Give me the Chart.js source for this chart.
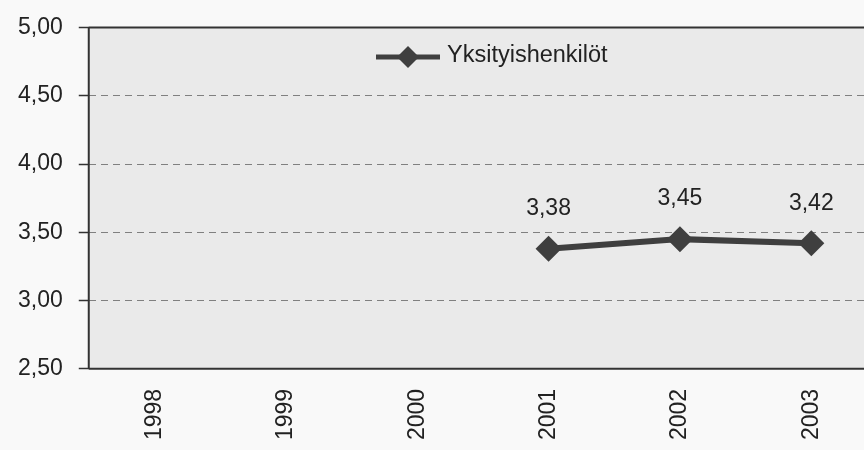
<!DOCTYPE html>
<html>
<head>
<meta charset="utf-8">
<script src="https://cdn.jsdelivr.net/npm/chart.js@4/dist/chart.umd.min.js"></script>
<style>
  html, body { margin: 0; padding: 0; background: #f9f9f9; overflow: hidden; }
  #wrap { width: 890px; height: 450px; }
</style>
</head>
<body>
<div id="wrap"><canvas id="lineChart" width="890" height="450"></canvas></div>
<script>
var years = ["1998", "1999", "2000", "2001", "2002", "2003"];
var privateValues = [null, null, null, 3.38, 3.45, 3.42];
var yTicks = [2.5, 3.0, 3.5, 4.0, 4.5, 5.0];
var seriesName = "Yksityishenkilöt";

var FONT = "'Liberation Sans', Arial, sans-serif";
var LINE_COLOR = "#3f3f3f";

function fi(v) {
    return v.toFixed(2).replace(".", ",");
}

// plot background + frame
var framePlugin = {
    id: 'frame',
    beforeDraw: function (chart) {
        var a = chart.chartArea, c = chart.ctx;
        c.save();
        c.fillStyle = "#eaeaea";
        c.fillRect(a.left, a.top, a.right - a.left, a.bottom - a.top);
        c.restore();
    },
    afterDatasetsDraw: function (chart) {
        var a = chart.chartArea, c = chart.ctx;
        c.save();
        c.strokeStyle = "#333";
        c.lineWidth = 2;
        c.beginPath();
        c.moveTo(a.left, a.top); c.lineTo(a.right + 2, a.top);
        c.moveTo(a.left, a.bottom); c.lineTo(a.right + 2, a.bottom);
        c.moveTo(a.left, a.top); c.lineTo(a.left, a.bottom);
        c.stroke();
        c.restore();
    }
};

// value labels over the points
var valueLabels = {
    id: 'valueLabels',
    afterDatasetsDraw: function (chart) {
        var c = chart.ctx;
        var meta = chart.getDatasetMeta(0);
        c.save();
        c.font = "23px " + FONT;
        c.fillStyle = "#222";
        c.textAlign = "center";
        c.textBaseline = "middle";
        meta.data.forEach(function (pt, i) {
            var v = privateValues[i];
            if (v == null) return;
            c.fillText(fi(v), pt.x, pt.y - 40);
        });
        c.restore();
    }
};

// legend drawn inside the plot area
var innerLegend = {
    id: 'innerLegend',
    afterDraw: function (chart) {
        var c = chart.ctx;
        var x = 376, y = 57;
        c.save();
        c.strokeStyle = LINE_COLOR;
        c.lineWidth = 5;
        c.beginPath();
        c.moveTo(x, y); c.lineTo(x + 64, y);
        c.stroke();
        c.fillStyle = LINE_COLOR;
        c.beginPath();
        c.moveTo(x + 32, y - 11); c.lineTo(x + 43, y);
        c.lineTo(x + 32, y + 11); c.lineTo(x + 21, y);
        c.closePath();
        c.fill();
        c.font = "23.5px " + FONT;
        c.fillStyle = "#222";
        c.textBaseline = "middle";
        c.fillText(seriesName, x + 71, y - 1);
        c.restore();
    }
};

var ctx = document.getElementById("lineChart").getContext("2d");
new Chart(ctx, {
    type: 'line',
    data: {
        labels: years,
        datasets: [{
            label: seriesName,
            data: privateValues,
            borderColor: LINE_COLOR,
            backgroundColor: LINE_COLOR,
            borderWidth: 6,
            pointStyle: 'rectRot',
            pointRadius: 13,
            pointHoverRadius: 13,
            pointBackgroundColor: LINE_COLOR,
            pointBorderColor: LINE_COLOR,
            pointBorderWidth: 0,
            spanGaps: false,
            tension: 0
        }]
    },
    options: {
        responsive: false,
        animation: false,
        layout: { padding: { top: 26, right: 0, bottom: -2, left: 2 } },
        plugins: {
            legend: { display: false },
            tooltip: { enabled: false }
        },
        scales: {
            x: {
                offset: true,
                grid: { display: false, offset: true },
                border: { display: false },
                ticks: {
                    minRotation: 90,
                    maxRotation: 90,
                    padding: 12,
                    color: "#222",
                    font: { family: FONT, size: 23 }
                }
            },
            y: {
                min: 2.5,
                max: 5,
                afterBuildTicks: function (axis) {
                    axis.ticks = yTicks.map(function (v) { return { value: v }; });
                },
                grid: {
                    color: function (ctx) {
                        var v = ctx.tick && ctx.tick.value;
                        return (v === 2.5 || v === 5) ? "rgba(0,0,0,0)" : "#808080";
                    },
                    lineWidth: 1,
                    tickLength: 10,
                    tickColor: "#333",
                    tickBorderDash: [],
                    tickWidth: 1.5
                },
                border: { display: false, dash: [7, 5] },
                ticks: {
                    padding: 16,
                    color: "#222",
                    font: { family: FONT, size: 23, lineHeight: 1 },
                    callback: function (v) { return fi(v); }
                }
            }
        }
    },
    plugins: [framePlugin, valueLabels, innerLegend]
});
</script>
</body>
</html>
